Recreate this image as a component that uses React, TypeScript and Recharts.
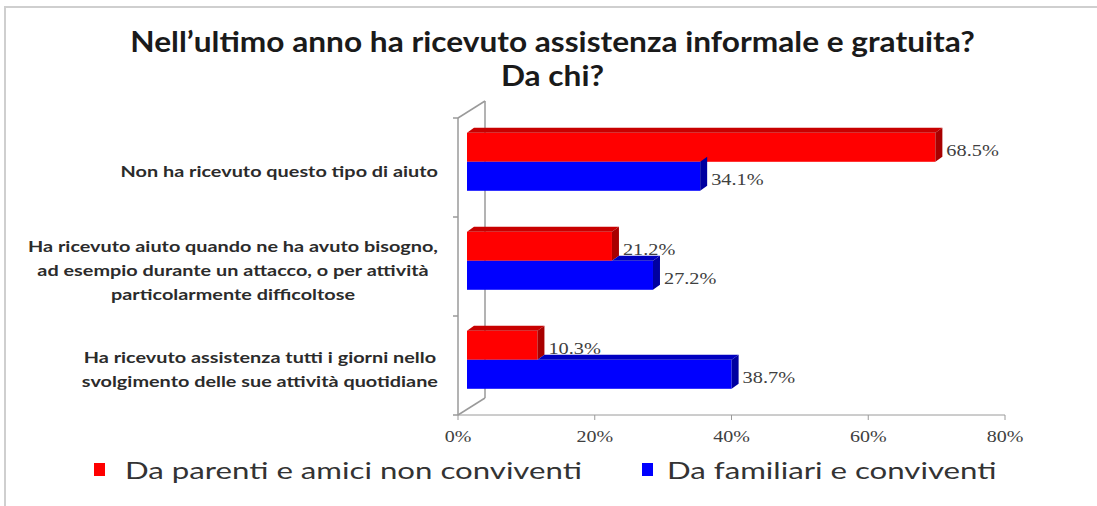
import { Bar, BarChart, Customized, LabelList, Legend, XAxis, YAxis } from "recharts"

const categories = [
    "Non ha ricevuto questo tipo di aiuto",
    "Ha ricevuto aiuto quando ne ha avuto bisogno, ad esempio durante un attacco, o per attività particolarmente difficoltose",
    "Ha ricevuto assistenza tutti i giorni nello svolgimento delle sue attività quotidiane",
]
const categoryLines = [
    ["Non ha ricevuto questo tipo di aiuto"],
    ["Ha ricevuto aiuto quando ne ha avuto bisogno,", "ad esempio durante un attacco, o per attività", "particolarmente difficoltose"],
    ["Ha ricevuto assistenza tutti i giorni nello", "svolgimento delle sue attività quotidiane"],
]
const parentiValues = [68.5, 21.2, 10.3]
const familiariValues = [34.1, 27.2, 38.7]
const xTicks = [0, 20, 40, 60, 80]
const seriesNames = ["Da parenti e amici non conviventi", "Da familiari e conviventi"]

const data = categories.map((c, i) => ({
    name: c,
    parenti: parentiValues[i],
    familiari: familiariValues[i],
}))

// layout
const W = 1097
const H = 506
const PL = 458
const PR = 1005
const PT = 118
const PB = 415
const WALL_DX = 27
const WALL_DY = -17
// bars sit in the middle of the depth
const BAR_DX = 9
const BAR_DY = -6
const DEPTH_X = 7
const DEPTH_Y = -5
// the source picture is stretched sideways
const SX = 1.24

const labelFont = "700 16px Lato"
let ctx: CanvasRenderingContext2D | null = null
const measure = (s: string) => {
    if (!ctx) ctx = document.createElement("canvas").getContext("2d")
    if (!ctx) return s.length * 8
    ctx.font = labelFont
    return ctx.measureText(s).width
}

const CategoryTick = (props: any) => {
    const { x, y, index } = props
    const lines = categoryLines[index] || []
    const blockW = Math.max(...lines.map(measure)) * SX
    const cx = x - blockW / 2
    return (
        <g>
            {lines.map((l, i) => (
                <text key={i} transform={`translate(${cx},${y + (i - (lines.length - 1) / 2) * 24 + 3}) scale(${SX},1)`}
                    textAnchor="middle" dominantBaseline="central" fill="#2b2b2b" style={{ font: labelFont }}>
                    {l}
                </text>
            ))}
        </g>
    )
}

const PercentTick = (props: any) => {
    const { x, y, payload } = props
    return (
        <text transform={`translate(${x},${y + 9}) scale(1.25,1)`} textAnchor="middle" dominantBaseline="central"
            fill="#404040" style={{ font: "16px 'Liberation Serif'" }}>
            {payload.value}%
        </text>
    )
}

const shades: Record<string, { front: string, top: string, side: string }> = {
    "#ff0000": { front: "#ff0000", top: "#c80000", side: "#a80000" },
    "#0000ff": { front: "#0000ff", top: "#0000c0", side: "#0000a0" },
}

const Bar3D = (props: any) => {
    const { x, y, width, height, fill, payload, dataKey } = props
    if (!width || width <= 0) return null
    const s = shades[fill]
    const fx = x + BAR_DX
    const fy = y + BAR_DY
    const w = width
    const h = height
    // top face of lower bar is hidden where the upper bar covers it
    let topStart = fx
    if (dataKey === "familiari" && payload.parenti > 0) {
        topStart = fx + Math.min(w, w * payload.parenti / payload.familiari)
    }
    return (
        <g>
            <rect x={fx} y={fy} width={w} height={h} fill={s.front} />
            {topStart < fx + w && (
                <polygon
                    points={`${topStart},${fy} ${topStart + DEPTH_X},${fy + DEPTH_Y} ${fx + w + DEPTH_X},${fy + DEPTH_Y} ${fx + w},${fy}`}
                    fill={s.top}
                />
            )}
            <polygon
                points={`${fx + w},${fy} ${fx + w + DEPTH_X},${fy + DEPTH_Y} ${fx + w + DEPTH_X},${fy + h + DEPTH_Y} ${fx + w},${fy + h}`}
                fill={s.side}
            />
        </g>
    )
}

const ValueLabel = (props: any) => {
    const { x, y, width, height, value } = props
    return (
        <text transform={`translate(${x + width + BAR_DX + DEPTH_X + 4},${y + height / 2 + BAR_DY + 3}) scale(1.27,1)`}
            dominantBaseline="central" fill="#404040" style={{ font: "16px 'Liberation Serif'" }}>
            {value.toFixed(1)}%
        </text>
    )
}

const Wall = () => {
    const band = (PB - PT) / categories.length
    const seps = [0, 1, 2, 3].map(i => PT + i * band)
    return (
        <g stroke="#9a9a9a" strokeWidth={1.5} fill="none">
            <line x1={PL} y1={PT} x2={PL} y2={PB} />
            <line x1={PL + WALL_DX} y1={PT + WALL_DY} x2={PL + WALL_DX} y2={PB + WALL_DY} />
            <line x1={PL} y1={PT} x2={PL + WALL_DX} y2={PT + WALL_DY} />
            <line x1={PL} y1={PB} x2={PL + WALL_DX} y2={PB + WALL_DY} />
            {seps.map((sy, i) => <line key={i} x1={PL - 5} y1={sy} x2={PL} y2={sy} />)}
        </g>
    )
}

const LegendContent = () => {
    const colors = ["#ff0000", "#0000ff"]
    return (
        <div style={{ display: "flex", font: "24px Lato", color: "#333" }}>
            {seriesNames.map((n, i) => (
                <div key={n} style={{ display: "flex", alignItems: "center", marginLeft: i === 0 ? 94 : 0, width: i === 0 ? 548 : undefined }}>
                    <span style={{ display: "inline-block", width: 11, height: 13, background: colors[i], marginRight: i === 0 ? 20 : 14 }} />
                    <span style={{ display: "inline-block", transform: "scaleX(1.3)", transformOrigin: "0 50%", whiteSpace: "nowrap" }}>{n}</span>
                </div>
            ))}
        </div>
    )
}

export default function App() {
    return (
        <div style={{ position: "absolute", left: 0, top: 0, width: W, height: H, background: "#fff", overflow: "hidden" }}>
            <div style={{ position: "absolute", left: 4, top: 6, right: 0, bottom: 0, borderTop: "2px solid #cfcfcf", borderLeft: "2px solid #cfcfcf" }} />
            <div style={{ position: "absolute", left: 4, top: 24, width: W, textAlign: "center", font: "700 28px Lato", lineHeight: "34px", color: "#1a1a1a", transform: "scaleX(1.13)", transformOrigin: "50% 0" }}>
                Nell’ultimo anno ha ricevuto assistenza informale e gratuita?<br />Da chi?
            </div>
            <BarChart
                width={W}
                height={H}
                data={data}
                layout="vertical"
                margin={{ top: PT, right: W - PR, bottom: H - PB - 30, left: PL - 300 }}
                barCategoryGap="21%"
                barGap={0}
                style={{ position: "absolute", left: 0, top: 0 }}
            >
                <Customized component={Wall} />
                <XAxis
                    type="number"
                    domain={[0, 80]}
                    ticks={xTicks}
                    height={30}
                    tickSize={5}
                    tickMargin={8}
                    stroke="#9a9a9a"
                    tick={<PercentTick />}
                />
                <YAxis
                    type="category"
                    dataKey="name"
                    width={300}
                    axisLine={false}
                    tickLine={false}
                    tickSize={0}
                    tickMargin={20}
                    tick={<CategoryTick />}
                    interval={0}
                />
                <Bar dataKey="parenti" name={seriesNames[0]} fill="#ff0000" shape={<Bar3D />} isAnimationActive={false}>
                    <LabelList dataKey="parenti" content={<ValueLabel />} />
                </Bar>
                <Bar dataKey="familiari" name={seriesNames[1]} fill="#0000ff" shape={<Bar3D />} isAnimationActive={false}>
                    <LabelList dataKey="familiari" content={<ValueLabel />} />
                </Bar>
                <Legend
                    layout="horizontal"
                    verticalAlign="middle"
                    align="center"
                    content={<LegendContent />}
                    wrapperStyle={{ top: 455, left: 0, width: W }}
                />
            </BarChart>
        </div>
    )
}
